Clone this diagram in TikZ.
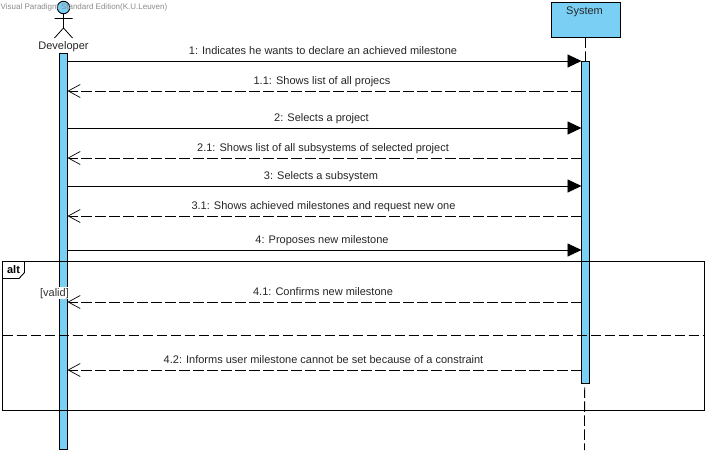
\documentclass[tikz,border=0pt]{standalone}
\usepackage{fontspec}
\setmainfont{Liberation Sans}
\usetikzlibrary{arrows.meta}
\definecolor{barblue}{RGB}{122,207,245}
\tikzset{
  x=1pt,y=-1pt,
  outline/.style={draw=black,line width=0.9pt},
  barbox/.style={outline,fill=barblue,inner sep=0pt,minimum width=8pt,anchor=north},
  lifeline/.style={draw=black,line width=0.8pt,dash pattern=on 10.5pt off 3.5pt},
  callmsg/.style={draw=black,line width=0.9pt,-{Triangle[length=14pt,width=13pt]}},
  replymsg/.style={draw=black,line width=0.8pt,dash pattern=on 10.5pt off 3.5pt,-{Straight Barb[length=12pt,width=13pt,line width=0.7pt]}},
  msglabel/.style={font=\fontsize{11pt}{13pt}\selectfont,text=black!85,inner sep=0pt,anchor=base},
}
\begin{document}
\begin{tikzpicture}
\useasboundingbox (0,0) rectangle (708,453);
\fill[white] (0,0) rectangle (708,453);
% lifeline of System
\node[outline,fill=barblue,inner sep=0pt,minimum width=69pt,minimum height=34.5pt,anchor=north west] (sysbox) at (550.5,2) {};
\node[msglabel] (systxt) at (584.5,14.5) {System};
\coordinate (sysend) at (584.5,450);
\path[lifeline] (sysbox.south) -- (sysend);
% activation bars
\node[barbox,minimum height=396pt] (devbar) at (63.5,52.5) {};
\node[barbox,minimum height=322pt] (sysbar) at (585.5,61) {};
% actor
\node[circle,outline,fill=barblue,inner sep=0pt,minimum size=12.5pt] (head) at (63.5,7.5) {};
\coordinate (armL) at (54.5,18.5);
\coordinate (armR) at (72.5,18.5);
\coordinate (hip) at (63.5,28);
\coordinate (legL) at (54.5,38);
\coordinate (legR) at (72.5,38);
\draw[line width=0.8pt] (head.south) -- (hip) (armL) -- (armR) (legL) -- (hip) -- (legR);
\node[msglabel] (devname) at (63.5,49.5) {Developer};
% combined fragment
\coordinate (fTL) at (2.5,261.5);
\coordinate (fBR) at (704.5,410.5);
\draw[outline] (fTL) rectangle (fBR);
\coordinate (tabA) at (24.5,261.5);
\coordinate (tabB) at (24.5,272.5);
\coordinate (tabC) at (19,278.5);
\coordinate (tabD) at (2.5,278.5);
\draw[outline,fill=white] (fTL) -- (tabA) -- (tabB) -- (tabC) -- (tabD) -- cycle;
\node[msglabel,font=\bfseries\fontsize{11pt}{13pt}\selectfont,text=black] (alt) at (13.5,273.5) {alt};
\coordinate (sepL) at (2.5,335.5);
\coordinate (sepR) at (704.5,335.5);
\draw[lifeline] (sepL) -- (sepR);
% messages
\foreach \nm/\yy in {m1/61,m2/91,m3/128,m4/158,m5/186,m6/216,m7/250,m8/302,m9/370}{
  \coordinate (\nm d) at (67.5,\yy);
  \coordinate (\nm s) at (581.5,\yy);
}
\draw[callmsg] (m1d) -- (m1s);
\draw[replymsg] (m2s) -- (m2d);
\draw[callmsg] (m3d) -- (m3s);
\draw[replymsg] (m4s) -- (m4d);
\draw[callmsg] (m5d) -- (m5s);
\draw[replymsg] (m6s) -- (m6d);
\draw[callmsg] (m7d) -- (m7s);
\draw[replymsg] (m8s) -- (m8d);
\draw[replymsg] (m9s) -- (m9d);
\node[msglabel] (l1) at (323,54.5) {1: Indicates he wants to declare an achieved milestone};
\node[msglabel] (l2) at (322,84.5) {1.1: Shows list of all projecs};
\node[msglabel] (l3) at (321.5,121.5) {2: Selects a project};
\node[msglabel] (l4) at (323,151.5) {2.1: Shows list of all subsystems of selected project};
\node[msglabel] (l5) at (321,179.5) {3: Selects a subsystem};
\node[msglabel] (l6) at (323.5,209.5) {3.1: Shows achieved milestones and request new one};
\node[msglabel] (l7) at (322,243.5) {4: Proposes new milestone};
\node[msglabel] (l8) at (323,295.5) {4.1: Confirms new milestone};
\node[msglabel] (l9) at (323.5,363.5) {4.2: Informs user milestone cannot be set because of a constraint};
\node[msglabel,fill=white,inner xsep=1pt,inner ysep=1pt,text=black!80] (guard) at (54.5,296) {[valid]};
\node[font=\fontsize{8pt}{9pt}\selectfont,text=black!45,inner sep=0pt,anchor=west] (wm) at (0.5,7) {Visual Paradigm Standard Edition(K.U.Leuven)};
\end{tikzpicture}
\end{document}
